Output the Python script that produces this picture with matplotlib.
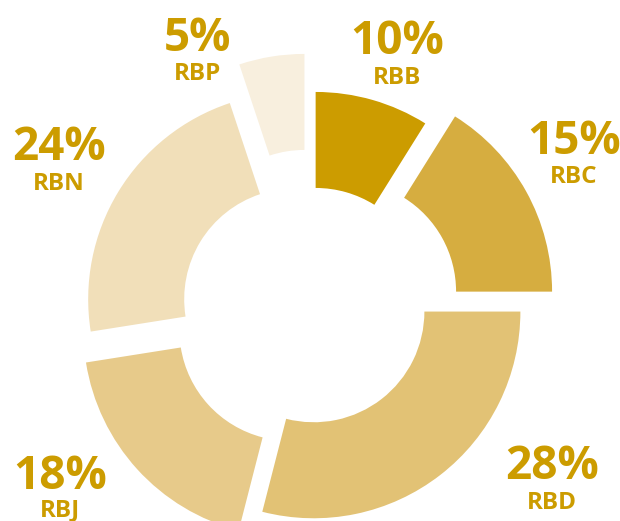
import matplotlib
matplotlib.use("Agg")
import matplotlib.pyplot as plt

# slice order clockwise from 12 o'clock
names = ["RBB", "RBC", "RBD", "RBJ", "RBN", "RBP"]
pct_labels = ["10%", "15%", "28%", "18%", "24%", "5%"]
# slice sizes as drawn in the picture (angular share, %)
shares = [8.9, 16.1, 29.0, 18.5, 22.4, 5.1]

colors = ["#CC9C00", "#D6AD40", "#E2C275", "#E7CA8A", "#F1DFB9", "#F8EFDE"]
explode = [11.7, 37.7, 2.1, 30.1, 20.5, 49.9]  # px offset of each slice

W, H = 620, 521
fig = plt.figure(figsize=(W / 100, H / 100), dpi=100)
ax = fig.add_axes([0, 0, 1, 1])

ax.pie(shares, explode=explode, colors=colors, startangle=90, counterclock=False,
       radius=206.7, center=(312.4, H - 309.9),
       wedgeprops=dict(width=96, linewidth=0))
ax.set_xlim(0, W)
ax.set_ylim(0, H)
ax.set_aspect("equal")
ax.axis("off")

# label anchors: x centre, baseline of the percent, baseline of the name (image px)
lab_x = [397, 574, 552, 60, 59, 198]
pct_base = [54, 154, 479, 489, 160, 51]
name_base = [84, 183, 509, 516, 190, 80]

font = ["Open Sans", "DejaVu Sans"]
for i in range(len(names)):
    ax.text(lab_x[i], H - pct_base[i], pct_labels[i], ha="center", va="baseline",
            fontsize=33, fontweight="bold", color="#CC9C00", family=font)
    ax.text(lab_x[i], H - name_base[i], names[i], ha="center", va="baseline",
            fontsize=17.5, fontweight="bold", color="#CC9C00", family=font)

fig.savefig("out.png", dpi=100)
